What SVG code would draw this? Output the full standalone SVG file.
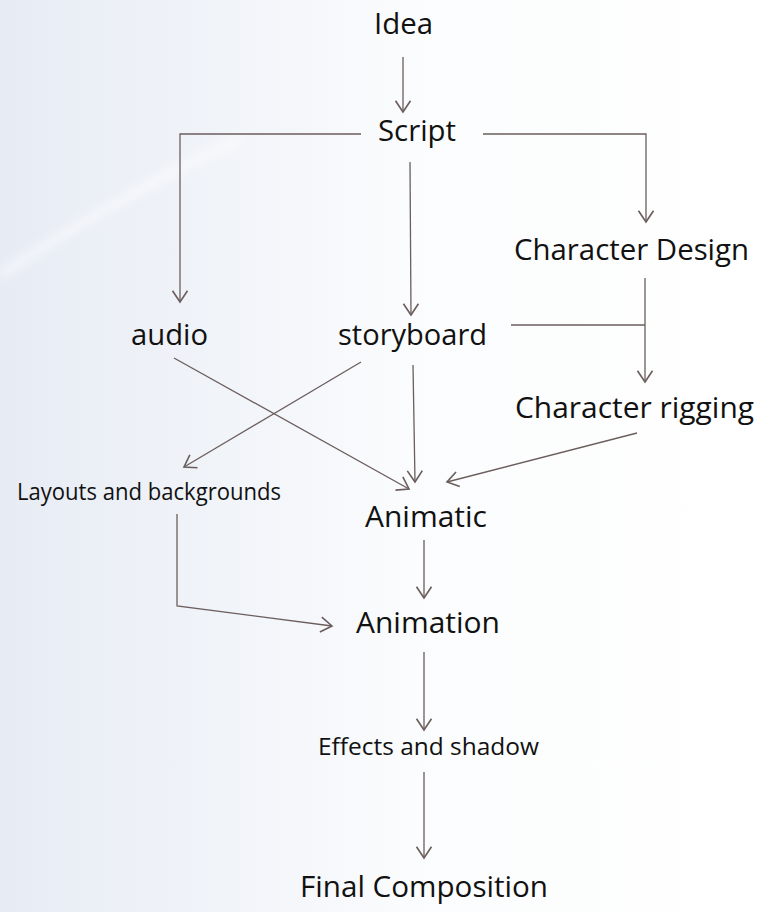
<svg xmlns="http://www.w3.org/2000/svg" width="759" height="912" viewBox="0 0 759 912">
  <defs>
    <linearGradient id="bg" x1="0" y1="0" x2="1" y2="0">
      <stop offset="0" stop-color="#e7ecf4"/>
      <stop offset="0.3" stop-color="#f1f4f9"/>
      <stop offset="0.55" stop-color="#fbfcfd"/>
      <stop offset="1" stop-color="#ffffff"/>
    </linearGradient>
    <filter id="soft" x="-20%" y="-20%" width="140%" height="140%">
      <feGaussianBlur stdDeviation="5"/>
    </filter>
    <marker id="arrow" markerUnits="userSpaceOnUse" markerWidth="20" markerHeight="20" viewBox="-10 -8 12 16" refX="0" refY="0" orient="auto">
      <path d="M-9,-6 L0,0 L-9,6" fill="none" stroke="#6b5e5c" stroke-width="1.3"/>
    </marker>
    <style>
      .lbl { font-family: "Open Sans", "Noto Sans", "Liberation Sans", sans-serif; fill: #111111; }
      .big { font-size: 30px; }
      .small { font-size: 23px; }
      .conn { fill: none; stroke: #6b5e5c; stroke-width: 1.3; }
      .arr { marker-end: url(#arrow); }
    </style>
  </defs>

  <!-- backdrop -->
  <rect x="0" y="0" width="759" height="912" fill="url(#bg)"/>
  <path d="M0,275 C70,230 140,185 240,140" fill="none" stroke="#ffffff" stroke-width="10" opacity="0.45" filter="url(#soft)"/>

  <!-- connectors -->
  <g id="connectors">
    <path class="conn arr" d="M403,57 L403,112"/>
    <path class="conn arr" d="M361,134 L180,134 L180,302"/>
    <path class="conn arr" d="M410,162 L411,315"/>
    <path class="conn arr" d="M483,134 L646,134 L646,222"/>
    <path class="conn arr" d="M645,278 L645,382"/>
    <path class="conn" d="M511,325 L645,325"/>
    <path class="conn arr" d="M174,358 L409,489"/>
    <path class="conn arr" d="M361,362 L184,467"/>
    <path class="conn arr" d="M413,365 L415,482"/>
    <path class="conn arr" d="M637,433 L447,482"/>
    <path class="conn arr" d="M177,514 L177,606 L332,626"/>
    <path class="conn arr" d="M424,540 L424,598"/>
    <path class="conn arr" d="M424,652 L424,730"/>
    <path class="conn arr" d="M424,772 L424,858"/>
  </g>

  <!-- nodes -->
  <g id="idea"><text class="lbl big" x="374" y="34" textLength="59" lengthAdjust="spacingAndGlyphs">Idea</text></g>
  <g id="script"><text class="lbl big" x="378" y="141" textLength="78" lengthAdjust="spacingAndGlyphs">Script</text></g>
  <g id="character-design"><text class="lbl big" x="514" y="260" textLength="235" lengthAdjust="spacingAndGlyphs">Character Design</text></g>
  <g id="audio"><text class="lbl big" x="131" y="345" textLength="77" lengthAdjust="spacingAndGlyphs">audio</text></g>
  <g id="storyboard"><text class="lbl big" x="338" y="345" textLength="149" lengthAdjust="spacingAndGlyphs">storyboard</text></g>
  <g id="character-rigging"><text class="lbl big" x="515" y="418" textLength="239" lengthAdjust="spacingAndGlyphs">Character rigging</text></g>
  <g id="layouts"><text class="lbl small" x="17" y="500" textLength="264" lengthAdjust="spacingAndGlyphs">Layouts and backgrounds</text></g>
  <g id="animatic"><text class="lbl big" x="365" y="527" textLength="122" lengthAdjust="spacingAndGlyphs">Animatic</text></g>
  <g id="animation"><text class="lbl big" x="356" y="633" textLength="144" lengthAdjust="spacingAndGlyphs">Animation</text></g>
  <g id="effects"><text class="lbl small" x="318" y="755" textLength="221" lengthAdjust="spacingAndGlyphs">Effects and shadow</text></g>
  <g id="final"><text class="lbl big" x="300" y="897" textLength="248" lengthAdjust="spacingAndGlyphs">Final Composition</text></g>
</svg>
